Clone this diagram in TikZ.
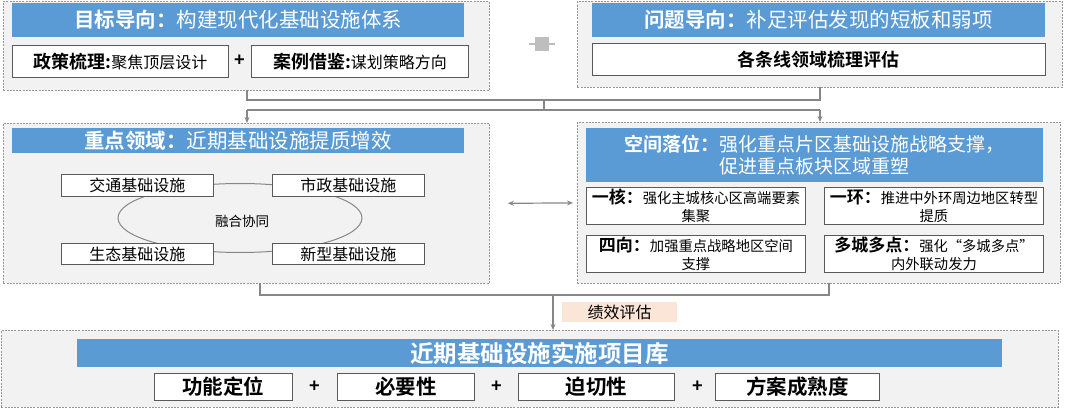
\documentclass[tikz,border=0pt]{standalone}
\usepackage{fontspec}
\setmainfont{Noto Sans CJK SC}[BoldFont={Noto Sans CJK SC Bold}]
\usetikzlibrary{arrows.meta}
\definecolor{hblue}{RGB}{91,155,213}
\definecolor{panelgray}{RGB}{242,242,242}
\definecolor{dashgray}{RGB}{150,150,150}
\definecolor{boxgray}{RGB}{90,90,90}
\definecolor{conngray}{RGB}{135,135,135}
\definecolor{plusgray}{RGB}{190,190,190}
\definecolor{peach}{RGB}{251,229,214}
\def\fs#1#2{\fontsize{#1}{#2}\selectfont}
\begin{document}
\begin{tikzpicture}[x=1pt,y=-1pt,
  panel/.style={draw=dashgray, dash pattern=on 2pt off 1.2pt, fill=panelgray, line width=0.8pt, anchor=north west, inner sep=0pt},
  header/.style={fill=hblue, text=white, anchor=north west, inner sep=0pt, font=\fs{20.5}{24}},
  wbox/.style={draw=boxgray, fill=white, line width=0.9pt, anchor=north west, inner sep=0pt},
  conn/.style={draw=conngray, line width=1.2pt},
  tip/.style={-{Stealth[length=6pt,width=5pt]}},
  plussign/.style={font=\fs{18}{20}\bfseries, inner sep=0pt}
]
\useasboundingbox (0,0) rectangle (1080,414);

% panels
\node[panel, minimum width=486pt, minimum height=89pt] (tl) at (3,1) {};
\node[panel, minimum width=485pt, minimum height=86pt] (tr) at (577,1) {};
\node[panel, minimum width=486pt, minimum height=160pt] (ml) at (3,123) {};
\node[panel, minimum width=483pt, minimum height=161pt] (mr) at (577,122) {};
\node[panel, minimum width=1057pt, minimum height=77pt] (bp) at (1,330) {};

% top-left
\node[header, minimum width=452pt, minimum height=34pt] (tlh) at (12,3) {{\bfseries 目标导向：}构建现代化基础设施体系};
\node[wbox, minimum width=216pt, minimum height=32pt] (b1) at (12,45) {{\fs{18}{20}\bfseries 政策梳理:}{\fs{16}{20}聚焦顶层设计}};
\node[wbox, minimum width=217pt, minimum height=32pt] (b2) at (251,45) {{\fs{18}{20}\bfseries 案例借鉴:}{\fs{16}{20}谋划策略方向}};
\node[plussign] (p0) at (240,61) {+};

% top-right
\node[header, minimum width=453pt, minimum height=34pt] (trh) at (592,3) {{\bfseries 问题导向：}补足评估发现的短板和弱项};
\node[wbox, minimum width=453pt, minimum height=32pt] (b3) at (592,43) {\fs{18}{20}\bfseries 各条线领域梳理评估};

% gray sign between top panels
\node[fill=plusgray, minimum width=14pt, minimum height=14pt, inner sep=0pt] (pl) at (542,44) {};
\draw[plusgray, line width=2pt] ([xshift=-6pt]pl.west) -- ([xshift=6pt]pl.east);

% connectors top
\coordinate (tlb) at (247,90);
\coordinate (trb) at (820,87);
\coordinate (j1) at (544,100);
\coordinate (j2) at (544,110);
\coordinate (la) at (247,110);
\coordinate (ra) at (820,110);
\draw[conn] (tlb) |- (j1) -| (trb);
\draw[conn] (j1) -- (j2);
\draw[conn] (la) -- (ra);
\draw[conn, tip] (la) -- (la |- ml.north);
\draw[conn, tip] (ra) -- (ra |- mr.north);

% middle-left
\node[header, minimum width=452pt, minimum height=25pt] (mlh) at (12,128) {{\bfseries 重点领域：}近期基础设施提质增效};
\draw[conngray, line width=1pt] (240,218) ellipse [x radius=122pt, y radius=34.5pt];
\node[font=\fs{13.5}{16}, inner sep=0pt] (rh) at (242,221) {融合协同};
\node[wbox, minimum width=152pt, minimum height=22pt, font=\fs{16}{19}] (jt) at (61,174) {交通基础设施};
\node[wbox, minimum width=152pt, minimum height=22pt, font=\fs{16}{19}] (sz) at (272,174) {市政基础设施};
\node[wbox, minimum width=152pt, minimum height=21pt, font=\fs{16}{19}] (st) at (61,243) {生态基础设施};
\node[wbox, minimum width=152pt, minimum height=21pt, font=\fs{16}{19}] (xx) at (272,243) {新型基础设施};

% middle-right
\node[header, minimum width=457pt, minimum height=54pt, align=center, font=\fs{19}{22}] (mrh) at (586,128) {{\bfseries 空间落位：}强化重点片区基础设施战略支撑，\\促进重点板块区域重塑};
\node[wbox, minimum width=219pt, minimum height=37pt, align=center, font=\fs{14.3}{18}] (yh) at (586,187) {{\fs{17}{18}\bfseries 一核：}强化主城核心区高端要素\\集聚};
\node[wbox, minimum width=219pt, minimum height=37pt, align=center, font=\fs{14.3}{18}] (yhu) at (824,187) {{\fs{17}{18}\bfseries 一环：}推进中外环周边地区转型\\提质};
\node[wbox, minimum width=219pt, minimum height=37pt, align=center, font=\fs{14.3}{18}] (sx) at (586,235) {{\fs{17}{18}\bfseries 四向：}加强重点战略地区空间\\支撑};
\node[wbox, minimum width=219pt, minimum height=37pt, align=center, font=\fs{14.3}{18}] (dc) at (824,235) {{\fs{17}{18}\bfseries 多城多点：}强化“多城多点”\\内外联动发力};

% double arrow
\draw[conn, {Stealth[length=6pt,width=5pt]}-{Stealth[length=6pt,width=5pt]}, shorten <=18pt, shorten >=4pt] (ml.east) -- (mr.west);

% connectors bottom
\coordinate (mlb) at (260,283);
\coordinate (mrb) at (829,283);
\coordinate (j3) at (553,295);
\draw[conn] (mlb) |- (j3) -| (mrb);
\draw[conn, tip] (j3) -- (j3 |- bp.north);
\node[fill=peach, anchor=north west, minimum width=115pt, minimum height=20pt, inner sep=0pt, font=\fs{16}{19}] (jx) at (562,302) {绩效评估};

% bottom panel
\node[header, minimum width=925pt, minimum height=28pt, font=\fs{23.5}{26}\bfseries] (bph) at (77,339) {近期基础设施实施项目库};
\node[wbox, minimum width=138pt, minimum height=27pt, font=\fs{20.5}{23}\bfseries] (gn) at (154,373) {功能定位};
\node[wbox, minimum width=137pt, minimum height=27pt, font=\fs{20.5}{23}\bfseries] (by) at (337,373) {必要性};
\node[wbox, minimum width=156pt, minimum height=27pt, font=\fs{20.5}{23}\bfseries] (pq) at (518,373) {迫切性};
\node[wbox, minimum width=164pt, minimum height=27pt, font=\fs{20.5}{23}\bfseries] (fa) at (715,373) {方案成熟度};
\node[plussign] (p1) at (315,387) {+};
\node[plussign] (p2) at (497,387) {+};
\node[plussign] (p3) at (698,387) {+};
\end{tikzpicture}
\end{document}
